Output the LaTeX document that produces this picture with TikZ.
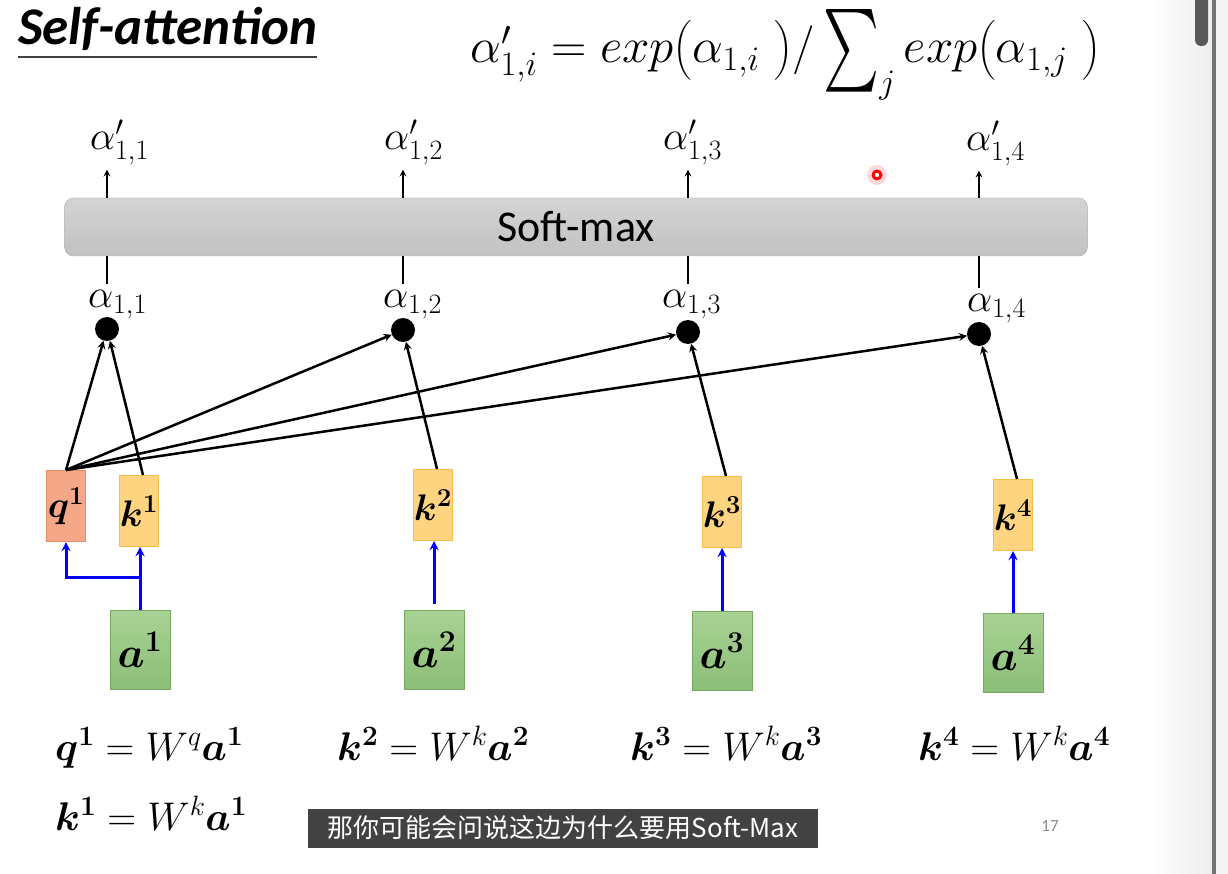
\RequirePackage{fix-cm}
\documentclass[tikz,border=0pt]{standalone}
\usepackage{amsmath}
\usepackage{exscale}
\usepackage{bm}
\usepackage{fontspec}
\setsansfont{Carlito}
\newfontfamily\cjkfont{Noto Sans CJK SC}
\definecolor{qfill}{RGB}{245,168,136}
\definecolor{qline}{RGB}{230,138,104}
\definecolor{kfill}{RGB}{255,212,128}
\definecolor{kline}{RGB}{246,190,72}
\definecolor{atop}{RGB}{168,210,148}
\definecolor{abot}{RGB}{140,190,120}
\definecolor{aline}{RGB}{118,168,98}
\definecolor{subgray}{RGB}{66,66,66}

\begin{document}
\begin{tikzpicture} [x=1pt,y=-1pt,>=stealth,
		query/.style={draw=qline,fill=qfill,line width=1pt,minimum width=39pt,minimum height=71pt,inner sep=0pt,font=\fontsize{37}{42}\selectfont},
		key/.style={draw=kline,fill=kfill,line width=1pt,minimum width=38pt,minimum height=71pt,inner sep=0pt,font=\fontsize{37}{42}\selectfont},
		input/.style={draw=aline,top color=atop,bottom color=abot,line width=1pt,minimum width=60pt,minimum height=79pt,inner sep=0pt,font=\fontsize{43}{48}\selectfont},
		score/.style={circle,fill=black,inner sep=0pt,minimum size=24pt},
		weight/.style={anchor=base west,inner sep=0pt,font=\fontsize{40}{46}\selectfont},
		eqn/.style={anchor=base west,inner sep=0pt,font=\fontsize{40}{46}\selectfont},
		attn/.style={->,line width=2.5pt},
		embed/.style={->,draw=blue,line width=3pt}]

			\fill [white] (0,0) rectangle (1228,874);
			\useasboundingbox (0,0) rectangle (1228,874);

			% scroll bar of the screen
			\shade [left color=white, right color=black!7] (1150,0) rectangle (1212,874);
			\fill [black!55] (1212,0) rectangle (1216,874);
			\fill [black!4] (1216,0) rectangle (1228,874);
			\fill [black!65, rounded corners=6pt] (1195,-10) rectangle (1208,46);

			\node [font=\sffamily\bfseries\itshape\fontsize{53}{58}\selectfont, anchor=base west, inner sep=0pt] (title) at (18,45) {Self-attention};
			\draw [line width=1.5pt, black!75] ([yshift=-12pt]title.base west) -- ([yshift=-12pt]title.base east);

			\node [anchor=base west, inner sep=0pt, font=\fontsize{49}{56}\selectfont] (softmax-eq) at (470,63)
				{$\alpha'_{1,i} = exp\bigl(\alpha_{1,i}\ \bigr)/\mathop{\vcenter{\hbox{\resizebox{56pt}{82pt}{$\sum$}}}}\nolimits_j exp\bigl(\alpha_{1,j}\ \bigr)$};

			\node [draw=black!32, top color=black!17, bottom color=black!24, rounded corners=9pt,
				minimum width=1023pt, minimum height=58pt, font=\sffamily\fontsize{44}{50}\selectfont] (softmax) at (576,227) {Soft-max};

			% laser pointer
			\fill [red!15] (877,175) circle (10);
			\fill [red] (877,175) circle (5.5);
			\fill [white] (877,175) circle (2.2);

			\node [weight] (prob-1) at (90,150) {$\alpha'_{1,1}$};
			\node [weight] (prob-2) at (384,150) {$\alpha'_{1,2}$};
			\node [weight] (prob-3) at (663,150) {$\alpha'_{1,3}$};
			\node [weight] (prob-4) at (966,151) {$\alpha'_{1,4}$};

			\node [score] (score-1) at (107,329) {};
			\node [score] (score-2) at (403,330) {};
			\node [score] (score-3) at (688,332) {};
			\node [score] (score-4) at (979,334) {};

			\node [weight] (alpha-1) at (88,308) {$\alpha_{1,1}$};
			\node [weight] (alpha-2) at (383,308) {$\alpha_{1,2}$};
			\node [weight] (alpha-3) at (662,308) {$\alpha_{1,3}$};
			\node [weight] (alpha-4) at (967,312) {$\alpha_{1,4}$};

			\node [query] (query-1) at (66,506) {$\bm{q}^{\bm{1}}$};
			\node [key] (key-1) at (139,511) {$\bm{k}^{\bm{1}}$};
			\node [key] (key-2) at (433,505) {$\bm{k}^{\bm{2}}$};
			\node [key] (key-3) at (722,512) {$\bm{k}^{\bm{3}}$};
			\node [key] (key-4) at (1013,515) {$\bm{k}^{\bm{4}}$};

			\node [input] (input-1) at (140,650) {$\bm{a}^{\bm{1}}$};
			\node [input] (input-2) at (434,650) {$\bm{a}^{\bm{2}}$};
			\node [input] (input-3) at (722,651) {$\bm{a}^{\bm{3}}$};
			\node [input] (input-4) at (1013,653) {$\bm{a}^{\bm{4}}$};
			\coordinate (split-1) at (140,577);

			% soft-max in and out
			\draw [->, line width=2pt, shorten >=4pt] (softmax.north -| score-1) -- (prob-1.south -| score-1);
			\draw [->, line width=2pt, shorten >=4pt] (softmax.north -| score-2) -- (prob-2.south -| score-2);
			\draw [->, line width=2pt, shorten >=4pt] (softmax.north -| score-3) -- (prob-3.south -| score-3);
			\draw [->, line width=2pt, shorten >=4pt] (softmax.north -| score-4) -- (prob-4.south -| score-4);
			\draw [line width=2.5pt, shorten >=7pt] (softmax.south -| score-1) -- (alpha-1.north -| score-1);
			\draw [line width=2.5pt, shorten >=7pt] (softmax.south -| score-2) -- (alpha-2.north -| score-2);
			\draw [line width=2.5pt, shorten >=7pt] (softmax.south -| score-3) -- (alpha-3.north -| score-3);
			\draw [line width=2.5pt, shorten >=7pt] (softmax.south -| score-4) -- (alpha-4.north -| score-4);

			\path (query-1.north) edge [attn] (score-1)
				edge [attn] (score-2)
				edge [attn] (score-3)
				edge [attn] (score-4);
			\draw [attn] ([xshift=4pt]key-1.north) -- (score-1);
			\draw [attn] ([xshift=4pt]key-2.north) -- (score-2);
			\draw [attn] ([xshift=4pt]key-3.north) -- (score-3);
			\draw [attn] ([xshift=4pt]key-4.north) -- (score-4);

			\draw [embed] (input-1.north) -- (input-1.north |- key-1.south);
			\draw [embed] (split-1) -| (query-1.south);
			\draw [embed, shorten <=6pt] (input-2.north) -- (input-2.north |- key-2.south);
			\draw [embed] (input-3.north) -- (input-3.north |- key-3.south);
			\draw [embed] (input-4.north) -- (input-4.north |- key-4.south);

			\node [eqn] (eq-q1) at (55,760) {$\bm{q}^{\bm{1}} = W^q\bm{a}^{\bm{1}}$};
			\node [eqn] (eq-k1) at (55,830) {$\bm{k}^{\bm{1}} = W^k\bm{a}^{\bm{1}}$};
			\node [eqn] (eq-k2) at (337,760) {$\bm{k}^{\bm{2}} = W^k\bm{a}^{\bm{2}}$};
			\node [eqn] (eq-k3) at (630,760) {$\bm{k}^{\bm{3}} = W^k\bm{a}^{\bm{3}}$};
			\node [eqn] (eq-k4) at (918,760) {$\bm{k}^{\bm{4}} = W^k\bm{a}^{\bm{4}}$};

			\node [fill=subgray, text=white, minimum width=510pt, minimum height=39pt, inner sep=0pt,
				font=\cjkfont\fontsize{26}{30}\selectfont] (caption) at (563,828) {那你可能会问说这边为什么要用Soft-Max};
			\node [text=black!45, font=\sffamily\fontsize{17}{20}\selectfont] (page) at (1050,826) {17};
		\end{tikzpicture}
\end{document}
